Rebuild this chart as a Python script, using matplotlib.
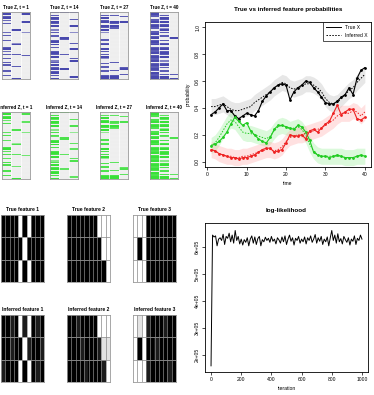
import numpy as np
import matplotlib.pyplot as plt
from matplotlib.colors import LinearSegmentedColormap

plt.rcParams['font.family'] = ['Liberation Sans', 'DejaVu Sans']

W, H = 374, 395

# Z snapshots, one string per column, digit = intensity (0-9), 50 rows
z_times = [1, 14, 27, 40]
true_z = [
    ["0909908090" "0000080900" "0900009908" "0900900908" "0009900900",
     "0000000000" "0009000000" "0006900000" "0900000000" "9000000009",
     "0900000900" "0000060000" "0000000000" "0090000000" "0000000000"],
    ["9090990990" "9006090990" "0990909009" "9909006909" "0990990909",
     "9000000000" "0000000009" "9000000000" "0900000000" "0090000000",
     "9000090000" "9000060000" "0009000900" "0000909000" "0000000090"],
    ["0090909900" "9909060000" "9909900909" "0909600090" "9909900999",
     "0090000990" "9990000000" "0000000000" "0000000900" "0009000999",
     "0009000900" "0000000000" "0000000000" "0000000000" "0990009000"],
    ["9999099909" "9990999099" "0999909999" "9099999099" "9999099999",
     "0090990909" "9069090990" "0909909909" "9909006099" "0909909099",
     "0000000000" "0000000009" "0000000000" "0000000000" "0000009009"],
]
inferred_z = [
    ["0909907090" "0000080900" "0800009908" "0900800908" "0009900900",
     "0000000000" "0008000000" "0005800000" "0800000000" "7000000009",
     "0800000700" "0000060000" "0000000000" "0070000000" "0000000000"],
    ["9090980990" "9005090980" "0990909009" "9909005909" "0990990909",
     "9000000000" "0000000008" "9000000000" "0800000000" "0070000000",
     "8000080000" "8000050000" "0008000700" "0000808000" "0000000070"],
    ["0080909900" "9909050000" "9909800909" "0909500090" "9909900999",
     "0080000880" "9980000000" "0000000000" "0000000800" "0008000999",
     "0008000800" "0000000000" "0000000000" "0000000000" "0880008000"],
    ["9999099909" "9990999099" "0999909999" "9099999099" "9999099999",
     "0080980909" "9059090980" "0909908909" "9909005099" "0909909099",
     "0000000000" "0000000008" "0000000000" "0000000000" "0000008008"],
]

# features, 3 rows x 10 columns, digit = darkness (0-9)
true_feat = [
    ["9999090999", "9999909999", "9999090999"],
    ["9999999000", "9999999900", "9999999990"],
    ["0009999999", "0909999999", "0009999999"],
]
inferred_feat = [
    ["9989080989", "9989908998", "8999090989"],
    ["9989999000", "9998999811", "9999899980"],
    ["0108999899", "0909989999", "0008999989"],
]

# feature probabilities over time
t = np.arange(1, 41)
black_true = [0.35, 0.37, 0.40, 0.43, 0.38, 0.38, 0.34, 0.32, 0.34, 0.36,
              0.35, 0.34, 0.38, 0.45, 0.49, 0.52, 0.55, 0.57, 0.58, 0.57,
              0.46, 0.52, 0.55, 0.57, 0.60, 0.59, 0.55, 0.52, 0.48, 0.44,
              0.43, 0.43, 0.45, 0.48, 0.50, 0.55, 0.50, 0.62, 0.68, 0.70]
black_inf = [0.41, 0.41, 0.42, 0.43, 0.41, 0.39, 0.38, 0.38, 0.39, 0.40,
             0.41, 0.44, 0.46, 0.48, 0.50, 0.52, 0.55, 0.57, 0.59, 0.58,
             0.55, 0.54, 0.55, 0.56, 0.58, 0.58, 0.57, 0.55, 0.52, 0.47,
             0.44, 0.43, 0.44, 0.47, 0.50, 0.53, 0.55, 0.59, 0.62, 0.65]
green_true = [0.12, 0.13, 0.15, 0.18, 0.22, 0.28, 0.33, 0.30, 0.27, 0.29,
              0.23, 0.20, 0.17, 0.15, 0.14, 0.18, 0.24, 0.27, 0.27, 0.26,
              0.25, 0.24, 0.27, 0.26, 0.22, 0.16, 0.07, 0.05, 0.04, 0.04,
              0.03, 0.04, 0.05, 0.04, 0.03, 0.03, 0.03, 0.04, 0.05, 0.04]
green_inf = [0.12, 0.14, 0.18, 0.23, 0.28, 0.31, 0.30, 0.26, 0.22, 0.21,
             0.21, 0.20, 0.19, 0.18, 0.17, 0.19, 0.23, 0.26, 0.27, 0.26,
             0.24, 0.25, 0.26, 0.24, 0.20, 0.13, 0.08, 0.05, 0.04, 0.04,
             0.04, 0.04, 0.04, 0.04, 0.03, 0.03, 0.03, 0.04, 0.04, 0.04]
red_true = [0.09, 0.08, 0.06, 0.05, 0.04, 0.03, 0.03, 0.02, 0.03, 0.03,
            0.04, 0.05, 0.07, 0.09, 0.10, 0.10, 0.07, 0.08, 0.09, 0.14,
            0.20, 0.19, 0.19, 0.20, 0.17, 0.23, 0.24, 0.22, 0.25, 0.28,
            0.30, 0.36, 0.42, 0.35, 0.37, 0.39, 0.39, 0.32, 0.31, 0.33]
red_inf = [0.09, 0.08, 0.06, 0.05, 0.04, 0.04, 0.03, 0.03, 0.04, 0.04,
           0.05, 0.06, 0.07, 0.08, 0.09, 0.09, 0.08, 0.09, 0.11, 0.15,
           0.18, 0.19, 0.20, 0.20, 0.21, 0.22, 0.23, 0.24, 0.25, 0.27,
           0.29, 0.31, 0.34, 0.36, 0.36, 0.36, 0.38, 0.37, 0.34, 0.37]
band = 0.06

# log-likelihood trace (units of 1e5)
loglik = [1.58, 6.45, 6.38, 6.42, 6.05, 6.30, 6.35, 6.25, 6.48, 6.10,
          6.40, 6.33, 6.52, 6.20, 6.45, 6.15, 6.62, 6.25, 6.40, 6.12,
          6.30, 6.08, 6.28, 6.18, 6.35, 6.05, 6.30, 6.42, 6.15, 6.38,
          6.10, 6.32, 6.40, 6.05, 6.28, 6.20, 6.37, 6.25, 6.33, 6.18,
          6.40, 6.22, 6.30, 6.12, 6.35, 6.27, 6.15, 6.38, 6.20, 6.42,
          6.10, 6.30, 6.45, 6.22, 6.35, 6.08, 6.33, 6.25, 6.40, 6.15,
          6.30, 6.20, 6.38, 6.12, 6.35, 6.25, 6.42, 6.18, 6.30, 6.47,
          6.15, 6.35, 6.22, 6.40, 6.10, 6.30, 6.20, 6.38, 6.05, 6.35,
          6.62, 6.25, 6.45, 6.15, 6.50, 6.20, 6.32, 6.12, 6.40, 6.28,
          6.18, 6.35, 6.08, 6.30, 6.22, 6.42, 6.10, 6.33, 6.25, 6.45, 6.30]
ll_ticks = [2, 3, 4, 5, 6]


def box(x, y, w, h):
    return [x / W, 1 - (y + h) / H, w / W, h / H]


def to_arr(cols):
    return np.array([[int(c) for c in col] for col in cols]).T


def grid_panel(ax, arr, cmap, title, row_lc, col_lc, row_lw, fs=3.6):
    nr, nc = arr.shape
    ax.imshow(arr, cmap=cmap, vmin=0, vmax=9, aspect='auto',
              interpolation='nearest')
    for i in range(1, nr):
        ax.axhline(i - 0.5, color=row_lc, lw=row_lw)
    for j in range(1, nc):
        ax.axvline(j - 0.5, color=col_lc, lw=0.5)
    ax.set_xticks([])
    ax.set_yticks([])
    for s in ax.spines.values():
        s.set_color('#999999')
        s.set_linewidth(0.6)
    ax.set_title(title, fontsize=fs, fontweight='bold', pad=3)


fig = plt.figure(figsize=(W / 100, H / 100), dpi=100)

blue = LinearSegmentedColormap.from_list('b', ['#ececec', '#3434a4'])
green = LinearSegmentedColormap.from_list('g', ['#ececec', '#22dd22'])
xs = [2, 50, 100, 150]
for k, tt in enumerate(z_times):
    ax = fig.add_axes(box(xs[k], 12, 28, 67))
    grid_panel(ax, to_arr(true_z[k]), blue, f"True Z, t = {tt}",
               'white', 'white', 0.15, fs=3.3)
    ax = fig.add_axes(box(xs[k], 112, 28, 67))
    grid_panel(ax, to_arr(inferred_z[k]), green, f"Inferred Z, t = {tt}",
               'white', 'white', 0.15, fs=3.3)

fx = [1, 67, 133]
for k in range(3):
    arr = np.array([[int(c) for c in row] for row in true_feat[k]])
    ax = fig.add_axes(box(fx[k], 215, 43, 67))
    grid_panel(ax, arr, 'gray_r', f"True feature {k + 1}",
               '#999999', '#888888', 0.6)
    arr = np.array([[int(c) for c in row] for row in inferred_feat[k]])
    ax = fig.add_axes(box(fx[k], 315, 43, 67))
    grid_panel(ax, arr, 'gray_r', f"Inferred feature {k + 1}",
               '#999999', '#888888', 0.6)

# probabilities over time
ax = fig.add_axes(box(205, 22, 166, 145))
series = [(black_true, black_inf, 'black', '#bbbbbb'),
          (green_true, green_inf, '#22cc22', '#99ee99'),
          (red_true, red_inf, '#ee2222', '#ffaaaa')]
for tr, inf, c, bc in series:
    inf = np.array(inf)
    ax.fill_between(t, inf - band, inf + band, color=bc, alpha=0.35, lw=0)
for tr, inf, c, bc in series:
    ax.plot(t, tr, color=c, lw=0.8, marker='o', ms=1.0)
    ax.plot(t, inf, color=c, lw=0.7, ls=(0, (1.5, 1.5)))
ax.set_xlim(-0.56, 41.56)
ax.set_ylim(-0.04, 1.04)
ax.set_xticks([0, 10, 20, 30, 40])
ax.set_yticks([0.0, 0.2, 0.4, 0.6, 0.8, 1.0])
ax.set_yticklabels(['0.0', '0.2', '0.4', '0.6', '0.8', '1.0'],
                   rotation=90, va='center')
ax.set_title("True vs inferred feature probabilities", fontsize=4.5,
             fontweight='bold', pad=8)
ax.set_xlabel("time", fontsize=3.6, labelpad=3)
ax.set_ylabel("probability", fontsize=3.6, labelpad=3)
ax.plot([], [], color='black', lw=0.7, label='True X')
ax.plot([], [], color='black', lw=0.7, ls=(0, (1.5, 1.5)), label='Inferred X')
handles, labels = ax.get_legend_handles_labels()
leg = ax.legend(handles[-2:], labels[-2:], loc='upper right', fontsize=3.6,
                frameon=True, fancybox=False, borderaxespad=0,
                handlelength=3, borderpad=0.6)
leg.get_frame().set_edgecolor('black')
leg.get_frame().set_linewidth(0.6)
ax.tick_params(labelsize=3.6, length=2, width=0.5, pad=1.5)
for s in ax.spines.values():
    s.set_linewidth(0.6)

# log-likelihood
ax = fig.add_axes(box(205, 223, 163, 149))
it = np.linspace(0, 1000, len(loglik))
ax.plot(it, loglik, color='black', lw=0.7)
ax.set_xlim(-40, 1040)
ax.set_ylim(1.35, 6.9)
ax.set_xticks([0, 200, 400, 600, 800, 1000])
ax.set_yticks(ll_ticks)
ax.set_yticklabels([f"{v}e+05" for v in ll_ticks], rotation=90, va='center')
ax.set_title("log-likelihood", fontsize=4.5, fontweight='bold', pad=8)
ax.set_xlabel("iteration", fontsize=3.6, labelpad=3)
ax.tick_params(labelsize=3.6, length=2, width=0.5, pad=1.5)
for s in ax.spines.values():
    s.set_linewidth(0.6)

fig.savefig('out.png', dpi=100)
